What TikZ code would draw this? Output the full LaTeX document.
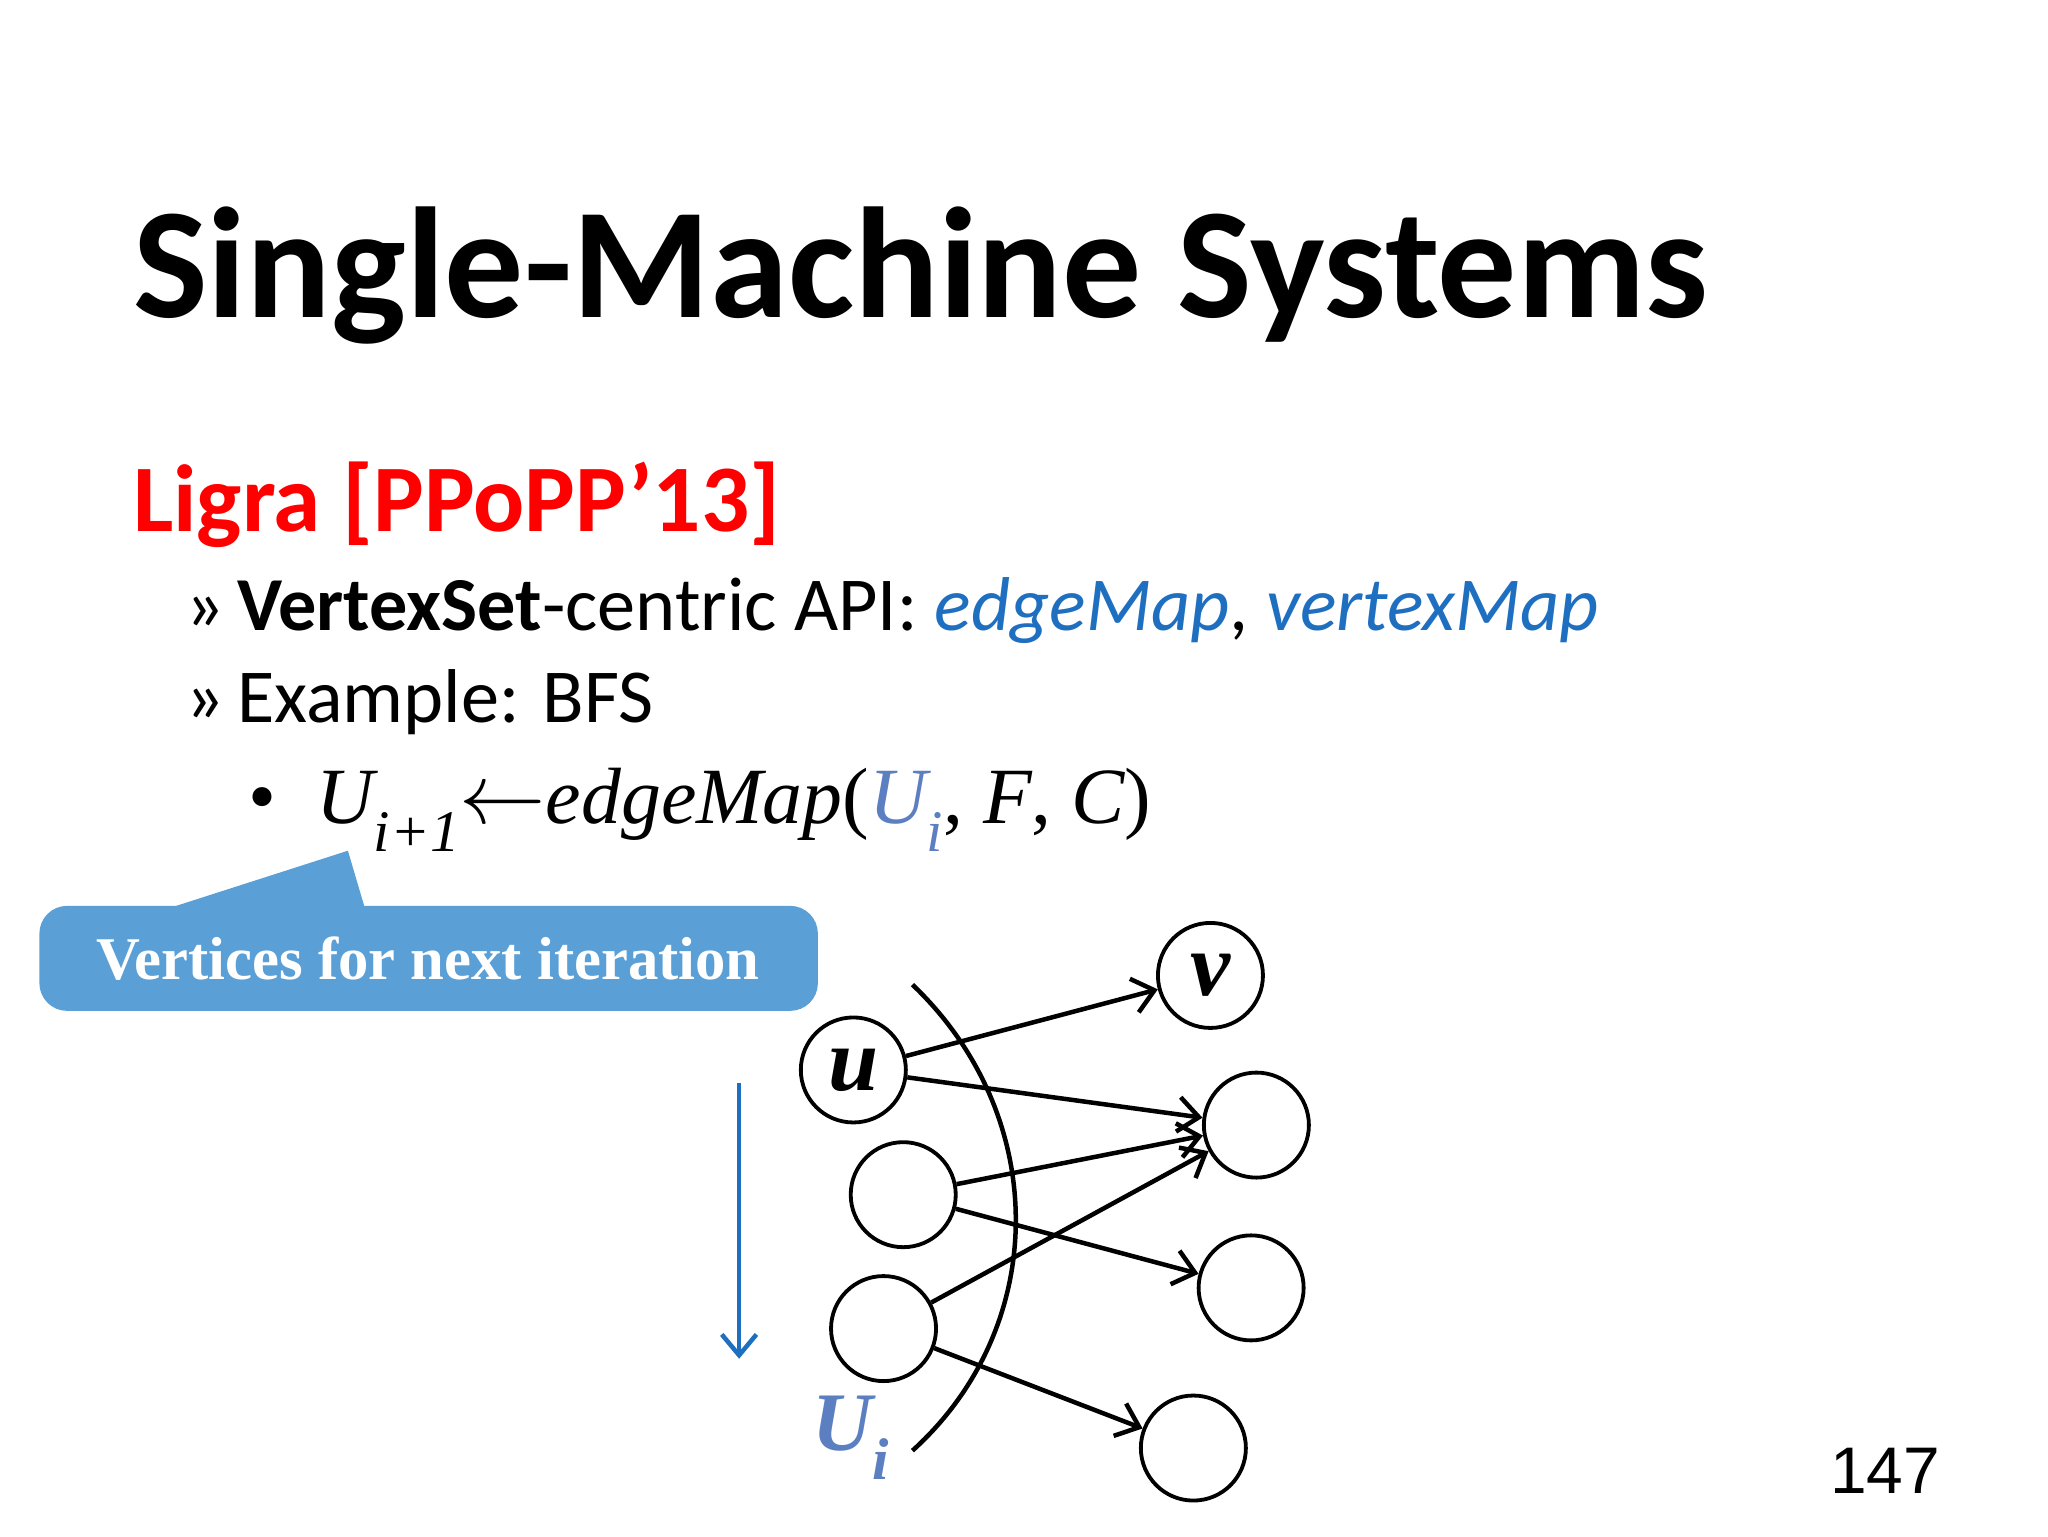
\documentclass[tikz,border=0pt]{standalone}
\usepackage{fontspec}
\setmainfont{Carlito}
\newfontfamily\tnr{Liberation Serif}
\usetikzlibrary{arrows.meta}
\definecolor{callblue}{HTML}{5A9FD6}
\definecolor{apiblue}{HTML}{1F6FC0}
\definecolor{uiblue}{HTML}{5B7FC0}
\begin{document}
\begin{tikzpicture}[x=0.0133cm,y=-0.0133cm,
  vtx/.style={draw,circle,line width=1.1pt,minimum size=80*0.0133cm,inner sep=0pt,font=\tnr\bfseries\itshape\fontsize{26}{26}\selectfont},
  edge/.style={line width=1.3pt,-{Straight Barb[length=6pt,width=10pt]}}]
\useasboundingbox (0,0) rectangle (1560,1170);
\node[anchor=base west,font=\bfseries\fontsize{45.5}{50}\selectfont] (title) at (92,242) {Single-Machine Systems};
\node[anchor=base west,text=red,font=\bfseries\fontsize{27.5}{30}\selectfont] (ligra) at (92,405) {Ligra [PPoPP’13]};
\node[anchor=base west,font=\fontsize{22}{24}\selectfont] (b1) at (132,480) {»\,\textbf{VertexSet}-centric API: \textcolor{apiblue}{\itshape edgeMap}, \textcolor{apiblue}{\itshape vertexMap}};
\node[anchor=base west,font=\fontsize{22}{24}\selectfont] (b2) at (132,550) {»\,Example: BFS};
\node[anchor=base west,font=\tnr\itshape\fontsize{23}{24}\selectfont] (f) at (180,627) {\upshape•\ \ \itshape U\raisebox{-0.35em}{\fontsize{17}{17}\selectfont i+1}\upshape$\leftarrow$\itshape edgeMap\upshape(\textcolor{uiblue}{\itshape U\raisebox{-0.35em}{\fontsize{17}{17}\selectfont i}}\upshape, \itshape F\upshape, \itshape C\upshape)};
\fill[callblue] (128,692) -- (265,648) -- (278,692) -- cycle;
\fill[callblue,rounded corners=8] (30,690) rectangle (623,770);
\node[text=white,font=\tnr\bfseries\fontsize{17.5}{18}\selectfont] (call) at (326,730) {Vertices for next iteration};
\node[vtx] (v) at (922,743) {v};
\node[vtx] (u) at (650,815) {u};
\node[vtx] (r2) at (957,857) {};
\node[vtx] (l2) at (688,910) {};
\node[vtx] (r3) at (953,981) {};
\node[vtx] (l3) at (673,1012) {};
\node[vtx] (r4) at (909,1103) {};
\draw[line width=1.3pt] (695,750) .. controls (800,850) and (800,1010) .. (695,1105);
\draw[edge] (u) -- (v);
\draw[edge] (u) -- (r2);
\draw[edge] (l2) -- (r2);
\draw[edge] (l2) -- (r3);
\draw[edge] (l3) -- (r2);
\draw[edge] (l3) -- (r4);
\draw[apiblue,line width=1.3pt,-{Straight Barb[length=6pt,width=10pt]}] (563,825) -- (563,1035);
\node[text=uiblue,font=\tnr\bfseries\itshape\fontsize{24}{24}\selectfont] (ui) at (648,1095) {U\raisebox{-0.35em}{\fontsize{17}{17}\selectfont i}};
\node[font=\fontsize{19}{20}\selectfont] (pg) at (1436,1120) {\fontspec{Liberation Sans}147};
\end{tikzpicture}
\end{document}
